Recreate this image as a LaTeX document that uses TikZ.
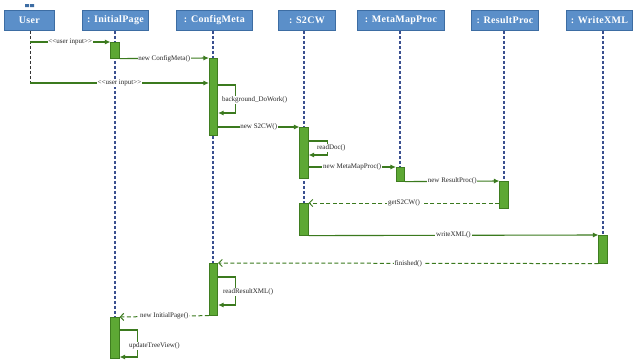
\documentclass[tikz,border=0pt]{standalone}
\usepackage{fontspec}
\setmainfont{Liberation Serif}
\usetikzlibrary{arrows.meta}
\definecolor{hdrfill}{HTML}{5B8FC9}
\definecolor{hdrdraw}{HTML}{3D6DA3}
\definecolor{actfill}{HTML}{5DA834}
\definecolor{actdraw}{HTML}{3F7D20}
\definecolor{msg}{HTML}{3B7A1E}
\definecolor{life}{HTML}{3A4F8F}
\tikzset{
  hdr/.style={draw=hdrdraw, line width=0.8pt, fill=hdrfill, text=white, font=\bfseries\fontsize{10}{12}\selectfont\addfontfeatures{LetterSpace=3}, minimum height=20pt, inner sep=0pt, anchor=north west},
  act/.style={draw=actdraw, fill=actfill, line width=0.6pt, minimum width=8.5pt, inner sep=0pt, anchor=north},
  lifeline/.style={draw=life, line width=1.1pt, dash pattern=on 3pt off 2pt},
  userline/.style={draw=black!80, line width=0.9pt, dash pattern=on 3pt off 2pt},
  msgline/.style={draw=msg, line width=1.1pt, -{Latex[length=5.5pt,width=5pt]}},
  retline/.style={draw=msg, line width=1pt, dash pattern=on 4pt off 2.5pt, -{Straight Barb[length=3.5pt,width=7pt]}},
  lbl/.style={fill=white, inner sep=0.8pt, font=\fontsize{7}{8}\selectfont, text=black!85},
  slbl/.style={lbl, anchor=west}
}
\newcommand{\actbox}[4]{\node[act, minimum height={(#4-#3)*1pt}] (#1) at (#2,#3) {};}
\begin{document}
\begin{tikzpicture}[x=1pt,y=-1pt]
\useasboundingbox[fill=white] (0,0) rectangle (637,362);
% headers
\node[hdr, minimum width=50pt] (hU) at (4,10) {User};
\node[hdr, minimum width=66pt] (hI) at (82,10) {: InitialPage};
\node[hdr, minimum width=76pt] (hC) at (176,10) {: ConfigMeta};
\node[hdr, minimum width=57pt] (hS) at (278,10) {: S2CW};
\node[hdr, minimum width=87pt] (hM) at (357,10) {: MetaMapProc};
\node[hdr, minimum width=67pt] (hR) at (471,10) {: ResultProc};
\node[hdr, minimum width=66pt] (hW) at (566,10) {: WriteXML};
\fill[hdrdraw] (25,4) rectangle (29,7) (30,4) rectangle (34,7);
% lifelines
\coordinate (uend) at (30,84);
\draw[userline] (hU.south -| uend) -- (uend);
\draw[lifeline] (hI.south -| 115,0) -- (115,358);
\draw[lifeline] (hC.south -| 213,0) -- (213,315);
\draw[lifeline] (hS.south -| 304,0) -- (304,235);
\draw[lifeline] (hM.south -| 400,0) -- (400,181);
\draw[lifeline] (hR.south -| 504,0) -- (504,208);
\draw[lifeline] (hW.south -| 603,0) -- (603,263);
% activations
\actbox{aI1}{115}{42}{58}
\actbox{aC1}{213.5}{58}{135}
\actbox{aS1}{304}{127}{178}
\actbox{aM1}{400.5}{167}{181}
\actbox{aR1}{504}{181}{208}
\actbox{aS2}{304}{203}{235}
\actbox{aW1}{603}{235}{263}
\actbox{aC2}{213.5}{263}{315}
\actbox{aI2}{115}{317}{358}
% messages
\coordinate (u1) at (30,42);
\coordinate (u2) at (30,83);
\draw[msgline] (u1) -- node[lbl]{{<}{<}user input{>}{>}} (aI1.north west);
\draw[msgline] (aI1.south east) -- node[lbl]{new ConfigMeta()} (aC1.north west);
\draw[msgline] (u2) -- node[lbl]{{<}{<}user input{>}{>}} (aC1.west |- u2);
\draw[msgline] (aC1.east |- 0,85) -- ++(17,0) -- ++(0,28) -- (aC1.east |- 0,113);
\node[slbl] at (221,100) {background\_DoWork()};
\draw[msgline] (aC1.east |- aS1.north) -- node[lbl]{new S2CW()} (aS1.north west);
\draw[msgline] (aS1.east |- 0,141) -- ++(19,0) -- ++(0,14) -- (aS1.east |- 0,155);
\node[slbl] at (316,148) {readDoc()};
\draw[msgline] (aS1.east |- aM1.north) -- node[lbl]{new MetaMapProc()} (aM1.north west);
\draw[msgline] (aM1.south east) -- node[lbl]{new ResultProc()} (aR1.north west);
\draw[retline] (aR1.west |- aS2.north) -- node[lbl]{getS2CW()} (aS2.north east);
\draw[msgline] (aS2.south east) -- node[lbl]{writeXML()} (aW1.north west);
\draw[retline] (aW1.south west) -- node[lbl]{finished()} (aC2.north east);
\draw[msgline] (aC2.east |- 0,277) -- ++(17,0) -- ++(0,28) -- (aC2.east |- 0,305);
\node[slbl] at (222,292) {readResultXML()};
\draw[retline] (aC2.south west) -- node[lbl]{new InitialPage()} (aI2.north east);
\draw[msgline] (aI2.east |- 0,330) -- ++(18,0) -- ++(0,27) -- (aI2.east |- 0,357);
\node[slbl] at (128,346) {updateTreeView()};
\end{tikzpicture}
\end{document}
